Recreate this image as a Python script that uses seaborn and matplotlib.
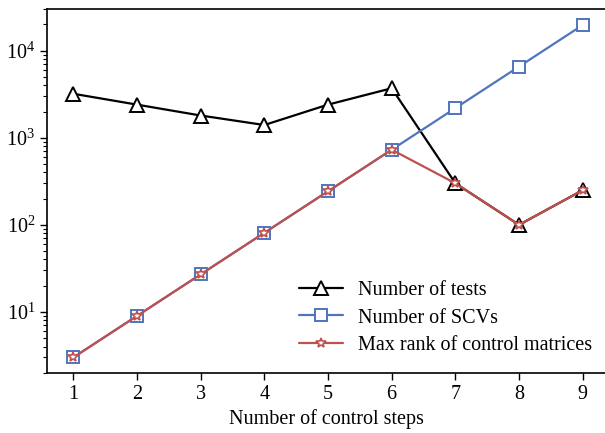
import matplotlib
matplotlib.use('Agg')
import matplotlib.pyplot as plt
import seaborn as sns
import pandas as pd

steps = [1, 2, 3, 4, 5, 6, 7, 8, 9]
num_tests = [3200, 2400, 1800, 1400, 2400, 3700, 300, 100, 250]
num_scvs = [3, 9, 27, 81, 243, 729, 2187, 6561, 19683]
max_rank = [3, 9, 27, 81, 243, 729, 300, 100, 250]


def main():
    df = pd.DataFrame({'steps': steps, 'tests': num_tests,
                       'scvs': num_scvs, 'rank': max_rank})

    sns.set_style('ticks')
    plt.rcParams['font.family'] = ['Liberation Serif', 'DejaVu Serif']
    plt.rcParams['mathtext.fontset'] = 'stix'
    plt.rcParams['text.color'] = 'black'
    plt.rcParams['axes.labelcolor'] = 'black'

    fig = plt.figure(figsize=(6.05, 4.33), dpi=100)
    ax = fig.add_axes([0.078, 0.139, 0.922, 0.84])

    sns.lineplot(data=df, x='steps', y='tests', label='Number of tests', color='black',
                 marker='^', ms=9.5, mfc='white', mec='black', mew=1.4, lw=1.6, ax=ax)
    sns.lineplot(data=df, x='steps', y='scvs', label='Number of SCVs', color='#4F75BD',
                 marker='s', ms=8, mfc='white', mec='#4F75BD', mew=1.4, lw=1.6, ax=ax)
    sns.lineplot(data=df, x='steps', y='rank', label='Max rank of control matrices', color='#C0504D',
                 marker='*', ms=7, mfc='white', mec='#C0504D', mew=1.2, lw=1.6, ax=ax)

    ax.set_yscale('log')
    ax.set_ylim(2, 3e4)
    ax.set_xlim(0.59, 9.35)
    ax.set_xticks(steps)
    ax.set_xlabel('Number of control steps', fontsize=14.5, color='black')
    ax.set_ylabel('')
    ax.tick_params(axis='both', which='major', labelsize=14.5, direction='out', length=5, width=1,
                   colors='black', labelcolor='black')
    ax.tick_params(axis='y', which='minor', direction='out', length=3, width=0.8, colors='black')
    ax.spines['right'].set_visible(False)
    for s in ['left', 'top', 'bottom']:
        ax.spines[s].set_color('black')
        ax.spines[s].set_linewidth(1.2)

    leg = ax.legend(loc='lower right', bbox_to_anchor=(1.01, 0.0), frameon=False, fontsize=14.5,
                    handlelength=2.2, labelspacing=0.4, handletextpad=0.75)
    for t in leg.get_texts():
        t.set_color('black')

    fig.savefig('out.png', dpi=100)


if __name__ == '__main__':
    main()
